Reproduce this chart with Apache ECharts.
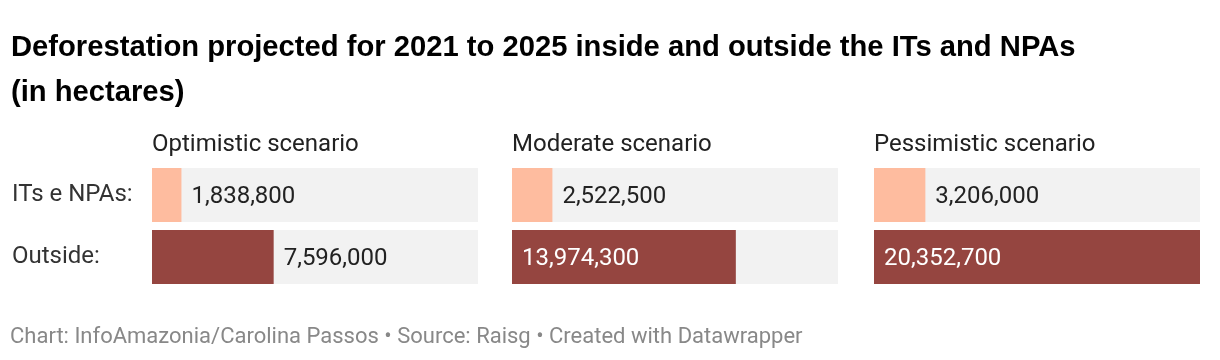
<!DOCTYPE html>
<html><head><meta charset="utf-8">
<script src="https://cdn.jsdelivr.net/npm/echarts@6/dist/echarts.min.js"></script>
<style>html,body{margin:0;padding:0;background:#fff}#c{width:1220px;height:360px}</style>
</head><body><div id="c"></div>
<script>
const titleText = 'Deforestation projected for 2021 to 2025 inside and outside the ITs and NPAs\n(in hectares)';
const footerText = 'Chart: InfoAmazonia/Carolina Passos • Source: Raisg • Created with Datawrapper';
const categories = ['ITs e NPAs:', 'Outside:'];
const scenarios = ['Optimistic scenario', 'Moderate scenario', 'Pessimistic scenario'];
const itsValues = [1838800, 2522500, 3206000];
const outsideValues = [7596000, 13974300, 20352700];
const maxValue = 20352700;

const colors = ['#febc9f', '#954540'];
const lefts = [152, 512, 874];
const panelW = 326;
const fmt = v => v.toLocaleString('en-US');

const grids = [], xAxes = [], yAxes = [], series = [], graphics = [];
scenarios.forEach((s, i) => {
  grids.push({left: lefts[i], width: panelW, top: 164, height: 124, containLabel: false});
  xAxes.push({type: 'value', gridIndex: i, min: 0, max: maxValue, show: false});
  yAxes.push({
    type: 'category', gridIndex: i, data: categories, inverse: true,
    axisLine: {show: false}, axisTick: {show: false},
    axisLabel: {show: i === 0, align: 'left', margin: 140, padding: [4, 0, 0, 0],
      fontFamily: 'Roboto', fontSize: 24, color: '#333'}
  });
  const vals = [itsValues[i], outsideValues[i]];
  series.push({
    type: 'bar', xAxisIndex: i, yAxisIndex: i, barWidth: 54,
    showBackground: true, backgroundStyle: {color: '#f2f2f2'},
    data: vals.map((v, k) => {
      const inside = v / maxValue > 0.5;
      return {
        value: v,
        itemStyle: {color: colors[k]},
        label: {
          show: true, position: inside ? 'insideLeft' : 'right', distance: 10, offset: [0, 2],
          formatter: p => fmt(p.value), fontFamily: 'Roboto', fontSize: 24,
          color: inside ? '#fff' : '#222'
        }
      };
    })
  });
  graphics.push({type: 'text', left: lefts[i], top: 133,
    style: {text: s, fontFamily: 'Roboto', fontSize: 24, fill: '#222'}});
});
graphics.push({type: 'text', left: 10, top: 326,
  style: {text: footerText, fontFamily: 'Roboto', fontSize: 22, fill: '#888'}});

const chart = echarts.init(document.getElementById('c'), null, {renderer: 'canvas'});
chart.setOption({
  animation: false,
  title: {text: titleText, left: 6, top: 20,
    textStyle: {fontFamily: 'Liberation Sans', fontWeight: 'bold', fontSize: 29.2, color: '#000', lineHeight: 45}},
  grid: grids, xAxis: xAxes, yAxis: yAxes, series: series, graphic: graphics
});
</script></body></html>
